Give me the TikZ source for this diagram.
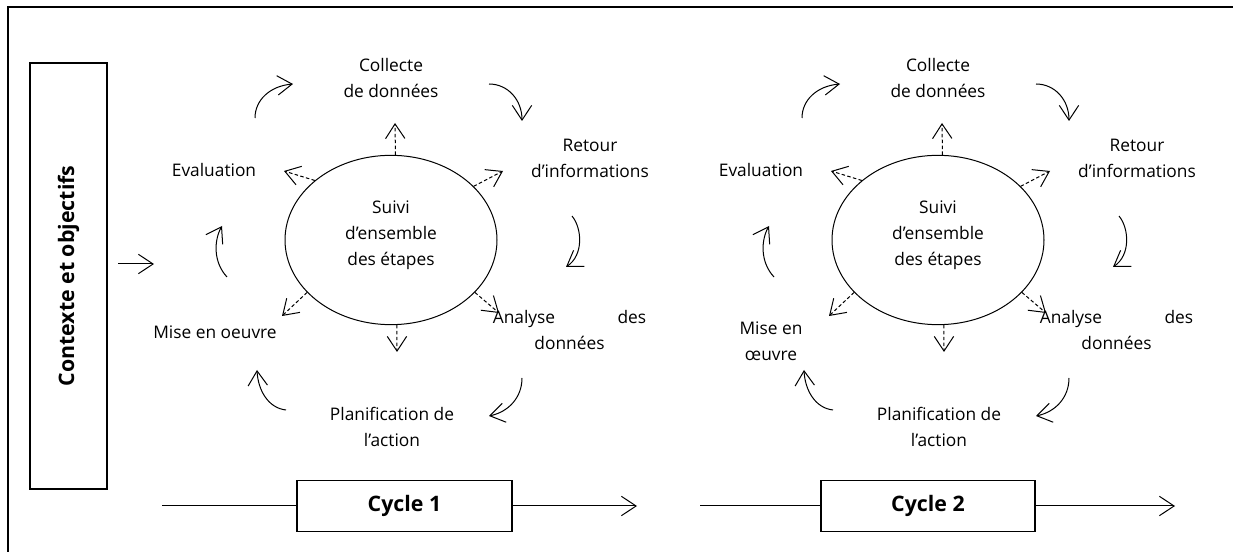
\documentclass[tikz,border=0pt]{standalone}
\usepackage{fontspec}
\setmainfont{Open Sans}
\usetikzlibrary{arrows.meta,shapes.geometric}
\tikzset{
  lbl/.style={font=\fontsize{13}{19.5}\selectfont, align=center, inner sep=0pt},
  bigbold/.style={font=\fontsize{16}{19}\selectfont\bfseries, inner sep=0pt},
  flow/.style={-{Straight Barb[length=11pt,width=14.5pt]}, line width=0.75pt},
  mon/.style={flow, dash pattern=on 2.6pt off 1.8pt},
  ell/.style={draw, ellipse, line width=0.75pt, minimum width=159pt, minimum height=127pt, inner sep=0pt},
  bx/.style={draw, line width=1pt},
}
\newcommand\cyclediag[5]{%
\begin{scope}[shift={(#2,0)}]
  \node[lbl] (col#1) at (391,78) {Collecte\\de données};
  \node[lbl] (ret#1) at (590,158) {Retour\\d’informations};
  \node[lbl] (ana#1) at (569.5,330) {\makebox[115pt][s]{Analyse des}\\données};
  \node[lbl] (pla#1) at (392,427) {Planification de\\l’action};
  \node[lbl] (mis#1) at (#4,#5) {#3};
  \node[lbl] (eva#1) at (214,170) {Evaluation};
  \node[ell] (e#1) at (391,240) {};
  \node[lbl] (sui#1) at (391,235) {Suivi\\d’ensemble\\des étapes};
  % cycle arrows
  \coordinate (a1s#1) at (255,118); \coordinate (a1t#1) at (293,84);
  \coordinate (a2s#1) at (489,84);  \coordinate (a2t#1) at (522,121);
  \coordinate (a3s#1) at (572,216); \coordinate (a3t#1) at (566,267);
  \coordinate (a4s#1) at (522,378); \coordinate (a4t#1) at (489,416);
  \coordinate (a5s#1) at (286,410); \coordinate (a5t#1) at (257,370);
  \coordinate (a6s#1) at (227,277); \coordinate (a6t#1) at (222,226);
  \draw[flow] (a1s#1) .. controls +(0,-18) and +(-23,2) .. (a1t#1);
  \draw[flow] (a2s#1) .. controls +(19,0) and +(0,-21) .. (a2t#1);
  \draw[flow] (a3s#1) .. controls +(10,12) and +(18,-12) .. (a3t#1);
  \draw[flow] (a4s#1) .. controls +(0,20) and +(19,-4) .. (a4t#1);
  \draw[flow] (a5s#1) .. controls +(-18,-2) and +(1,20) .. (a5t#1);
  \draw[flow] (a6s#1) .. controls +(-14,-15) and +(-8,14) .. (a6t#1);
  % monitoring arrows
  \coordinate (dU#1) at (395,123);
  \coordinate (dUL#1) at (284,171);
  \coordinate (dUR#1) at (503,171);
  \coordinate (dLL#1) at (282,316);
  \coordinate (dLR#1) at (499,313);
  \coordinate (dD#1) at (397,352);
  \draw[mon] (e#1.87) -- (dU#1);
  \draw[mon] (e#1.142) -- (dUL#1);
  \draw[mon] (e#1.33) -- (dUR#1);
  \draw[mon] (e#1.212) -- (dLL#1);
  \draw[mon] (e#1.-32) -- (dLR#1);
  \draw[mon] (e#1.-86) -- (dD#1);
\end{scope}}
\begin{document}
\begin{tikzpicture}[x=0.75pt,y=-0.75pt]
  \useasboundingbox (0,0) rectangle (1233,552);
  % frame
  \draw[line width=1.4pt] (8,553) -- (8,7) -- (1234,7);
  % context box
  \node[bx, rotate=90, minimum width=319.5pt, minimum height=57.75pt, bigbold] (ctx) at (68.5,276) {Contexte et objectifs};
  \coordinate (k1) at (118,264); \coordinate (k2) at (154,264);
  \draw[flow] (k1) -- (k2);
  % cycles
  \cyclediag{a}{0}{Mise en oeuvre}{215}{332}
  \cyclediag{b}{547}{Mise en\\œuvre}{224}{341}
  % cycle bars
  \node[bx, minimum width=161.25pt, minimum height=38.25pt, bigbold] (cy1) at (404.5,506) {Cycle 1};
  \node[bx, minimum width=160.5pt, minimum height=38.25pt, bigbold] (cy2) at (928,506) {Cycle 2};
  \coordinate (b1s) at (162,506); \coordinate (b1e) at (637,506);
  \coordinate (b2s) at (700,506); \coordinate (b2e) at (1175,506);
  \draw[line width=0.75pt] (b1s) -- (cy1.west);
  \draw[flow] (cy1.east) -- (b1e);
  \draw[line width=0.75pt] (b2s) -- (cy2.west);
  \draw[flow] (cy2.east) -- (b2e);
\end{tikzpicture}
\end{document}
